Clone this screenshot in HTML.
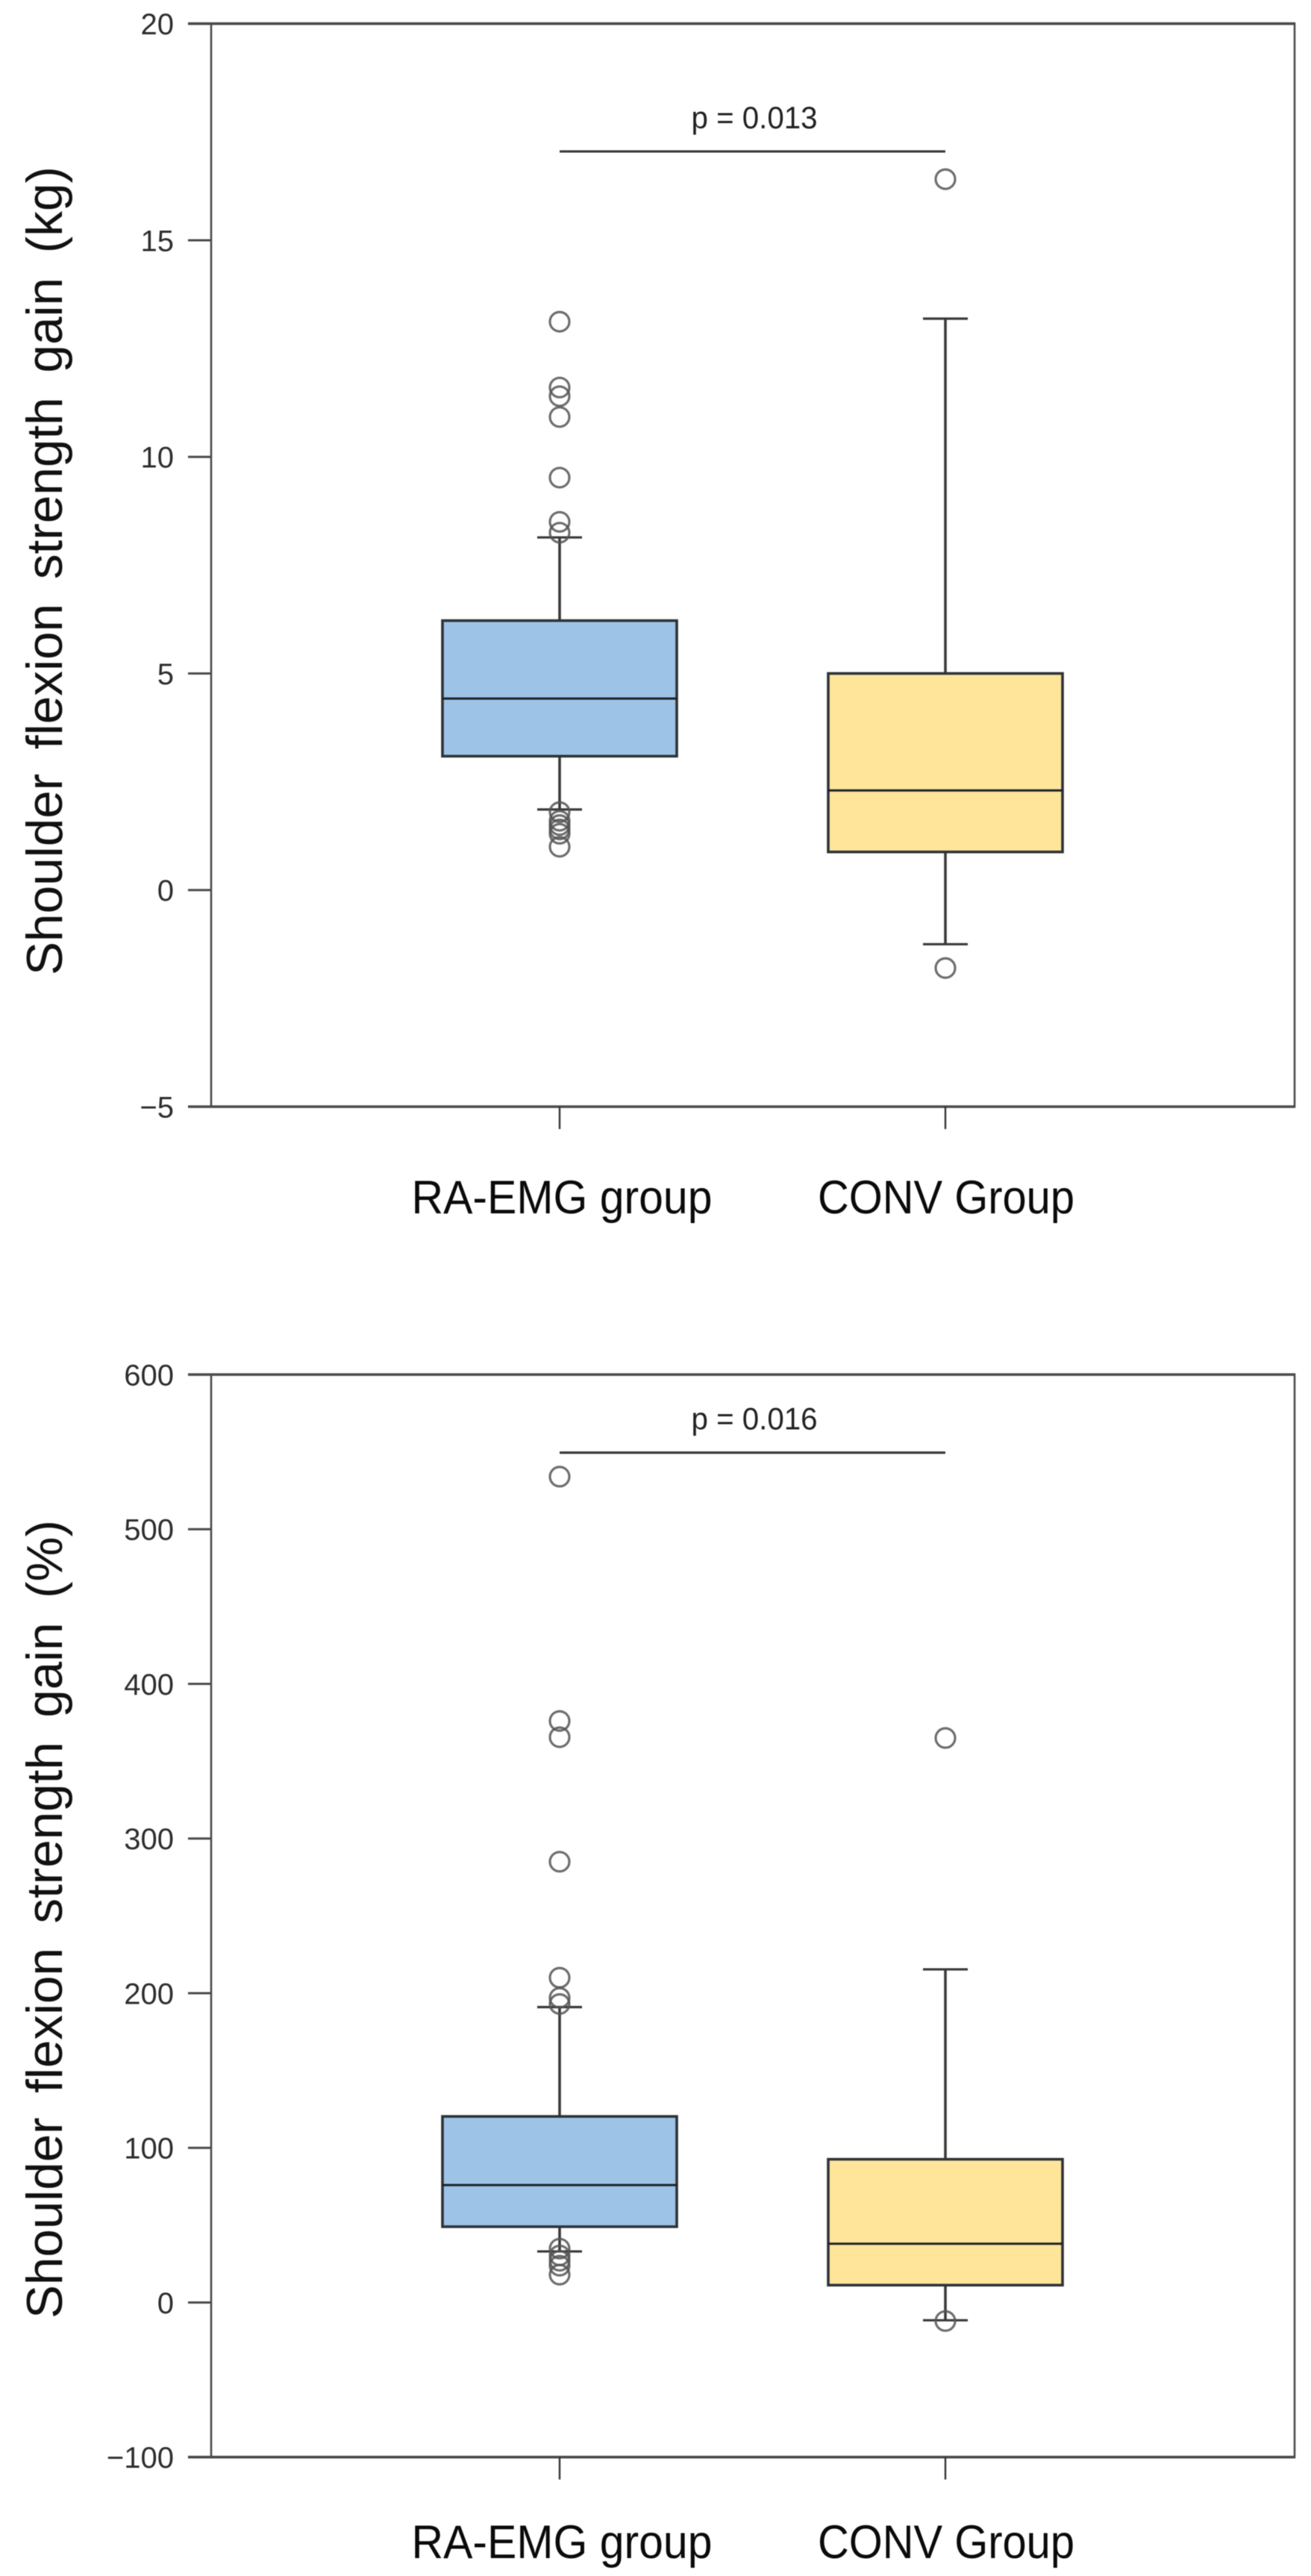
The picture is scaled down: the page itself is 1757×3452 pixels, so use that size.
<!DOCTYPE html>
<html lang="en">
<head>
<meta charset="utf-8">
<title>Shoulder flexion strength gain box plots</title>
<style>
html,body{margin:0;padding:0;background:#fff;width:1757px;height:3452px;overflow:hidden}
svg{display:block;filter:blur(.6px)}
text{font-family:"Liberation Sans",Arial,sans-serif}
</style>
</head>
<body>
<svg id="figure" xmlns="http://www.w3.org/2000/svg" width="1757" height="3452" viewBox="0 0 1757 3452"></svg>
<script>
const categories = ['RA-EMG group', 'CONV Group'];

const kgTickValues = [-5, 0, 5, 10, 15, 20];
const kgTickLabels = ['\u22125', '0', '5', '10', '15', '20'];
const kgWhiskerLow = [1.86, -1.25];
const kgQ1 = [3.09, 0.88];
const kgMedian = [4.42, 2.3];
const kgQ3 = [6.22, 5.0];
const kgWhiskerHigh = [8.14, 13.19];
const kgOutliersRa = [13.12, 11.6, 11.4, 10.92, 9.52, 8.5, 8.25, 1.8, 1.6, 1.5, 1.4, 1.3, 1.0];
const kgOutliersConv = [16.41, -1.8];
const kgPLabel = 'p = 0.013';
const kgPValueLevel = 17.05;

const pctTickValues = [-100, 0, 100, 200, 300, 400, 500, 600];
const pctTickLabels = ['\u2212100', '0', '100', '200', '300', '400', '500', '600'];
const pctWhiskerLow = [33, -11.5];
const pctQ1 = [49, 11.2];
const pctMedian = [75.9, 38];
const pctQ3 = [120.3, 92.6];
const pctWhiskerHigh = [191, 215.4];
const pctOutliersRa = [534, 376, 365.5, 285, 210, 197, 193, 34.8, 30.4, 27, 23.8, 18];
const pctOutliersConv = [365, -12];
const pctPLabel = 'p = 0.016';
const pctPValueLevel = 549.5;

const NS = 'http://www.w3.org/2000/svg';
const svg = document.getElementById('figure');

function mk(tag, attrs, parent) {
  const el = document.createElementNS(NS, tag);
  for (const k in attrs) el.setAttribute(k, attrs[k]);
  parent.appendChild(el);
  return el;
}

function drawPanel(cfg) {
  const yScale = v => cfg.top + (cfg.max - v) * (cfg.bottom - cfg.top) / (cfg.max - cfg.min);
  const xScale = i => 750 + 517 * i;
  const left = 283, right = 1735, boxHalf = 157, capHalf = 30;

  const panel = mk('g', {}, svg);
  
  

  const frame = mk('rect', {x: left, y: cfg.top, width: right - left, height: cfg.bottom - cfg.top, fill: '#fff', stroke: '#4a4a4a', 'stroke-width': 2.6}, panel);
  
  

  const topEdge = mk('line', {x1: 252, x2: right + 1, y1: cfg.top, y2: cfg.top, stroke: '#4a4a4a', 'stroke-width': 3.6}, panel);
  
  

  const bottomEdge = mk('line', {x1: 252, x2: right + 1, y1: cfg.bottom, y2: cfg.bottom, stroke: '#4a4a4a', 'stroke-width': 3.6}, panel);
  
  

  cfg.tickValues.forEach((v, i) => {
    const tick = mk('line', {x1: 252, x2: left, y1: yScale(v), y2: yScale(v), stroke: '#4a4a4a', 'stroke-width': 3}, panel);
    
    
    const label = mk('text', {x: 233, y: yScale(v) + 14.5, 'text-anchor': 'end', 'font-size': 40, fill: '#2d2d2d'}, panel);
    label.textContent = cfg.tickLabels[i];
    
    
  });

  const title = mk('text', {
    transform: 'translate(83,' + cfg.titleBottom + ') rotate(-90)',
    'font-size': 68, fill: '#111', 'word-spacing': 14,
    textLength: cfg.titleBottom - cfg.titleTop, lengthAdjust: 'spacingAndGlyphs'
  }, panel);
  title.textContent = cfg.title;
  
  

  categories.forEach((c, i) => {
    const cx = xScale(i);
    const xTick = mk('line', {x1: cx, x2: cx, y1: cfg.bottom, y2: cfg.bottom + 30, stroke: '#333', 'stroke-width': 2.4}, panel);
    
    

    const xLabel = mk('text', {x: cx + [3, 1][i], y: cfg.labelBase, 'text-anchor': 'middle', 'font-size': 63, fill: '#0a0a0a', textLength: [403, 344][i], lengthAdjust: 'spacingAndGlyphs'}, panel);
    xLabel.textContent = c;
    
    

    const stem = mk('line', {x1: cx, x2: cx, y1: yScale(cfg.whiskerHigh[i]), y2: yScale(cfg.whiskerLow[i]), stroke: '#3a3a3a', 'stroke-width': 3.6}, panel);
    
    

    const capHigh = mk('line', {x1: cx - capHalf, x2: cx + capHalf, y1: yScale(cfg.whiskerHigh[i]), y2: yScale(cfg.whiskerHigh[i]), stroke: '#3a3a3a', 'stroke-width': 3.2}, panel);
    
    

    const capLow = mk('line', {x1: cx - capHalf, x2: cx + capHalf, y1: yScale(cfg.whiskerLow[i]), y2: yScale(cfg.whiskerLow[i]), stroke: '#3a3a3a', 'stroke-width': 3.2}, panel);
    
    

    const box = mk('rect', {x: cx - boxHalf, y: yScale(cfg.q3[i]), width: boxHalf * 2, height: yScale(cfg.q1[i]) - yScale(cfg.q3[i]), fill: ['#9dc3e6', '#fee59a'][i], stroke: '#2e3338', 'stroke-width': 3.6}, panel);
    
    

    const med = mk('line', {x1: cx - boxHalf, x2: cx + boxHalf, y1: yScale(cfg.median[i]), y2: yScale(cfg.median[i]), stroke: '#1e2226', 'stroke-width': 3}, panel);
    
    

    cfg.outliers[i].forEach(v => {
      const dot = mk('circle', {cx: cx, cy: yScale(v), r: 13, fill: 'none', stroke: '#555', 'stroke-width': 3.2, 'stroke-opacity': 0.85}, panel);
      
      
    });
  });

  const pY = yScale(cfg.pLevel);
  const bracket = mk('line', {x1: xScale(0), x2: xScale(1), y1: pY, y2: pY, stroke: '#3a3a3a', 'stroke-width': 3.2}, panel);
  
  

  const pText = mk('text', {x: 1011, y: pY - 31, 'text-anchor': 'middle', 'font-size': 42, fill: '#222', textLength: 169, lengthAdjust: 'spacingAndGlyphs'}, panel);
  pText.textContent = cfg.pLabel;
  
  
}

drawPanel({
  name: 'kg-gain',
  top: 31.7, bottom: 1483, min: -5, max: 20,
  tickValues: kgTickValues, tickLabels: kgTickLabels,
  title: 'Shoulder flexion strength gain (kg)', titleTop: 223, titleBottom: 1307,
  labelBase: 1626,
  whiskerLow: kgWhiskerLow, q1: kgQ1, median: kgMedian, q3: kgQ3, whiskerHigh: kgWhiskerHigh,
  outliers: [kgOutliersRa, kgOutliersConv],
  pLabel: kgPLabel, pLevel: kgPValueLevel
});

drawPanel({
  name: 'percent-gain',
  top: 1842, bottom: 3292.7, min: -100, max: 600,
  tickValues: pctTickValues, tickLabels: pctTickLabels,
  title: 'Shoulder flexion strength gain (%)', titleTop: 2037, titleBottom: 3107,
  labelBase: 3428,
  whiskerLow: pctWhiskerLow, q1: pctQ1, median: pctMedian, q3: pctQ3, whiskerHigh: pctWhiskerHigh,
  outliers: [pctOutliersRa, pctOutliersConv],
  pLabel: pctPLabel, pLevel: pctPValueLevel
});
</script>
</body>
</html>
